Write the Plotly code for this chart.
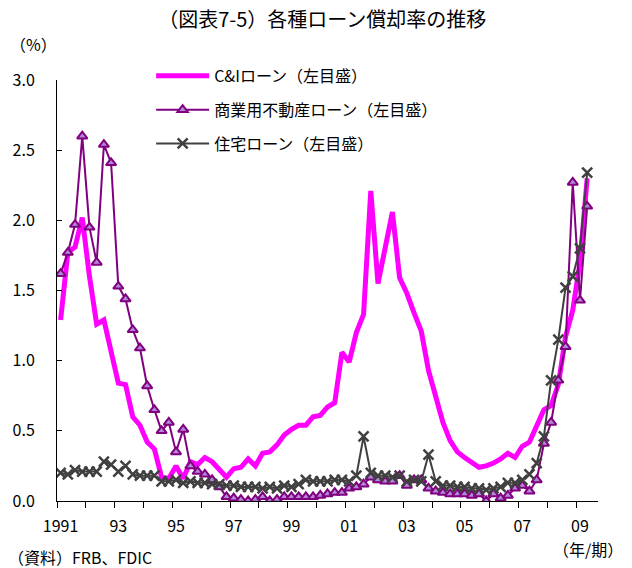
import plotly.graph_objects as go

# Quarters 1991Q1 .. 2009Q2
years = [y for y in range(1991, 2010) for _ in range(4)][:74]
quarters = [q for _ in range(1991, 2010) for q in (1, 2, 3, 4)][:74]

ci_loans = [1.29, 1.77, 1.81, 2.02, 1.60, 1.26, 1.29, 1.06, 0.84, 0.83,
            0.60, 0.54, 0.42, 0.37, 0.17, 0.16, 0.25, 0.16, 0.28, 0.26,
            0.31, 0.28, 0.22, 0.17, 0.23, 0.24, 0.30, 0.25, 0.34, 0.35,
            0.40, 0.47, 0.51, 0.54, 0.54, 0.60, 0.61, 0.67, 0.70, 1.06,
            0.99, 1.20, 1.33, 2.21, 1.55, 1.81, 2.06, 1.59, 1.48, 1.34,
            1.21, 0.93, 0.75, 0.56, 0.43, 0.35, 0.31, 0.27, 0.24, 0.25,
            0.27, 0.30, 0.34, 0.31, 0.39, 0.42, 0.53, 0.65, 0.68, 0.83,
            1.17, 1.36, 1.70, 2.30]

cre_loans = [1.62, 1.77, 1.97, 2.60, 1.95, 1.70, 2.54, 2.41, 1.53, 1.44,
             1.22, 1.09, 0.82, 0.65, 0.50, 0.56, 0.35, 0.51, 0.25, 0.21,
             0.19, 0.15, 0.10, 0.03, 0.02, 0.01, 0.00, 0.01, 0.03, 0.00,
             0.01, 0.03, 0.03, 0.03, 0.03, 0.03, 0.04, 0.05, 0.06, 0.06,
             0.09, 0.10, 0.12, 0.17, 0.15, 0.14, 0.14, 0.18, 0.11, 0.15,
             0.15, 0.09, 0.07, 0.06, 0.05, 0.05, 0.05, 0.04, 0.05, 0.00,
             0.05, 0.02, 0.04, 0.09, 0.11, 0.07, 0.15, 0.41, 0.56, 0.86,
             1.10, 2.27, 1.43, 2.10]

residential = [0.20, 0.19, 0.22, 0.21, 0.21, 0.21, 0.28, 0.26, 0.21, 0.25,
               0.19, 0.18, 0.18, 0.18, 0.14, 0.14, 0.15, 0.13, 0.14, 0.13,
               0.13, 0.12, 0.12, 0.11, 0.11, 0.10, 0.10, 0.10, 0.09, 0.10,
               0.09, 0.11, 0.10, 0.12, 0.15, 0.14, 0.14, 0.14, 0.15, 0.15,
               0.14, 0.18, 0.46, 0.20, 0.18, 0.18, 0.17, 0.18, 0.14, 0.15,
               0.14, 0.33, 0.14, 0.11, 0.11, 0.10, 0.10, 0.09, 0.09, 0.08,
               0.09, 0.10, 0.13, 0.13, 0.15, 0.19, 0.27, 0.46, 0.86, 1.15,
               1.52, 1.60, 1.80, 2.34]

tick_years = [1991, 1993, 1995, 1997, 1999, 2001, 2003, 2005, 2007, 2009]
tick_labels = ["1991", "93", "95", "97", "99", "01", "03", "05", "07", "09"]

series_names = ["C&Iローン（左目盛）", "商業用不動産ローン（左目盛）", "住宅ローン（左目盛）"]

FONT = "Noto Sans CJK JP"

x = [y + (q - 0.5) / 4 for y, q in zip(years, quarters)]

fig = go.Figure()
fig.add_trace(go.Scatter(
    x=x, y=ci_loans, mode="lines", name=series_names[0], legendgroup="a",
    line=dict(color="#FF00FF", width=5)))
fig.add_trace(go.Scatter(
    x=x, y=cre_loans, mode="lines+markers", name=series_names[1], legendgroup="b",
    line=dict(color="#800080", width=2),
    marker=dict(symbol="triangle-up", size=9, color="#B388D8",
                line=dict(color="#800080", width=2))))
fig.add_trace(go.Scatter(
    x=x, y=residential, mode="lines+markers", name=series_names[2], legendgroup="c",
    line=dict(color="#404040", width=2),
    marker=dict(symbol="x-thin", size=10, color="#404040",
                line=dict(color="#404040", width=2.5))))

fig.update_layout(
    width=632, height=568,
    margin=dict(l=57, r=34, t=80, b=67),
    paper_bgcolor="white", plot_bgcolor="white",
    font=dict(family=FONT, size=16, color="black"),
    title=dict(text="（図表7-5）各種ローン償却率の推移", x=0.51, xanchor="center",
               y=0.965, yanchor="middle", font=dict(size=20, family=FONT)),
    showlegend=True,
    legend=dict(x=0.174, y=1.05, xanchor="left", yanchor="top",
                bgcolor="rgba(0,0,0,0)", font=dict(size=16, family=FONT),
                itemwidth=53, tracegroupgap=10, traceorder="grouped"),
    xaxis=dict(range=[1991, 2009.75], showgrid=False, zeroline=False,
               showline=True, linecolor="black", linewidth=1,
               tickmode="array", tickvals=[t + 0.125 for t in tick_years],
               ticktext=tick_labels, ticks="", ticklen=0,
               ticklabelstandoff=11,
               minor=dict(ticks="outside", tick0=1991, dtick=1, ticklen=6,
                          tickcolor="black", showgrid=False),
               tickfont=dict(size=16)),
    yaxis=dict(range=[0, 3.0], dtick=0.5, tickformat=".1f", showgrid=False,
               zeroline=False, showline=True, linecolor="black", linewidth=1,
               ticks="inside", ticklen=5, tickcolor="black",
               ticklabelstandoff=18, tickfont=dict(size=16)),
    annotations=[
        dict(text="（%）", xref="paper", yref="paper", x=-0.09, y=1.085,
             xanchor="left", yanchor="middle", showarrow=False, font=dict(size=16)),
        dict(text="（年/期）", xref="paper", yref="paper", x=1.05, y=-0.113,
             xanchor="right", yanchor="middle", showarrow=False, font=dict(size=16)),
        dict(text="（資料）FRB、FDIC", xref="paper", yref="paper", x=-0.094, y=-0.134,
             xanchor="left", yanchor="middle", showarrow=False, font=dict(size=16)),
    ],
)

fig.write_html("out.html")
